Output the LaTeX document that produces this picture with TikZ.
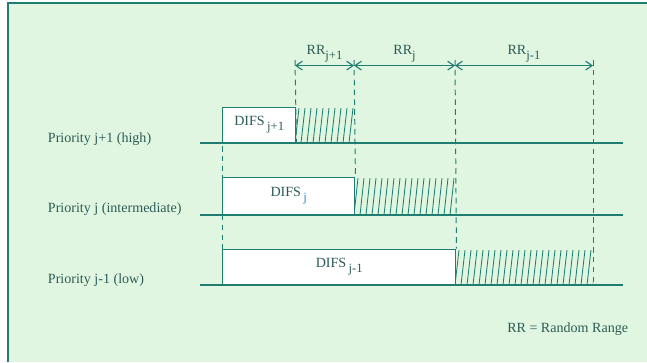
\documentclass[tikz,border=0pt]{standalone}
\usepackage{fontspec}
\setmainfont{Liberation Serif}
\usepackage{xcolor}
\usetikzlibrary{arrows.meta, positioning}
\definecolor{panelgreen}{HTML}{E0F6E0}
\definecolor{lineteal}{HTML}{1F7D72}
\definecolor{textteal}{HTML}{2D5C58}
\definecolor{subblue}{HTML}{2F8CC4}
\newcommand{\lowsub}[1]{\raisebox{-0.7ex}{\small #1}}

\begin{document}
\begin{tikzpicture}[
            timeline/.style={draw=lineteal, line width=1.3pt},
            slotbox/.style={
                draw=lineteal,
                fill=white,
                rectangle,
                anchor=south west,
                line width=1pt,
                inner sep=0pt,
                text=textteal
            },
            guide/.style={draw=lineteal, line width=0.7pt, dash pattern=on 4pt off 3pt},
            hatch/.style={draw=lineteal, line width=0.6pt},
            rrspan/.style={draw=lineteal, line width=0.8pt, {Straight Barb[length=1.6mm,width=2.2mm]}-{Straight Barb[length=1.6mm,width=2.2mm]}},
            txt/.style={text=textteal, font=\normalsize},
            prio/.style={txt, anchor=west}
        ]

        \useasboundingbox (0,0) rectangle (16.175,9.05);
        \fill[panelgreen] (0.2,0) rectangle (16.175,8.975);
        \draw[lineteal, line width=1.2pt] (0.2,0) -- (0.2,8.975) -- (16.175,8.975);

        % boxes
        \node[slotbox, minimum width=1.825cm, minimum height=0.875cm] (difshigh) at (5.55,5.475) {DIFS\,\lowsub{j+1}};
        \node[slotbox, minimum width=3.3cm, minimum height=0.925cm]   (difsmid)  at (5.55,3.675) {DIFS\,\lowsub{\textcolor{subblue}{j}}};
        \node[slotbox, minimum width=5.825cm, minimum height=0.875cm] (difslow)  at (5.55,1.925) {DIFS\,\lowsub{j-1}};

        % hatching
        \foreach \xa/\xb/\ya/\yb in {7.375/8.85/5.475/6.35, 8.85/11.375/3.675/4.6, 11.375/14.825/1.925/2.8}{
            \begin{scope}
                \clip (\xa,\ya) rectangle (\xb,\yb);
                \foreach \i in {0,...,24}
                    \draw[hatch] ({\xa+0.15*\i},\ya) -- ++(0.1,{\yb-\ya});
            \end{scope}
        }

        % time lines
        \draw[timeline] (5.0,5.475) -- (15.575,5.475);
        \draw[timeline] (5.0,3.675) -- (15.575,3.675);
        \draw[timeline] (5.0,1.925) -- (15.575,1.925);

        % guides
        \coordinate (ta) at (7.375,7.55);
        \coordinate (tb) at (8.85,7.55);
        \coordinate (tc) at (11.375,7.55);
        \coordinate (td) at (14.825,7.55);
        \draw[guide] (difshigh.north west) -- (difslow.south west);
        \draw[guide] (ta) -- (difshigh.south east);
        \draw[guide] (tb) -- (difsmid.north east);
        \draw[guide] (tc) -- (difslow.north east);
        \draw[guide] (td) -- (14.825,1.925);

        % ranges
        \draw[rrspan] ([yshift=-4pt]ta) -- ([yshift=-4pt]tb) node[midway, above=-1pt, txt] (rrhigh) {RR\lowsub{j+1}};
        \draw[rrspan] ([yshift=-4pt]tb) -- ([yshift=-4pt]tc) node[midway, above=-1pt, txt] (rrmid)  {RR\lowsub{j}};
        \draw[rrspan] ([yshift=-4pt]tc) -- ([yshift=-4pt]td) node[midway, above=-1pt, txt] (rrlow)  {RR\lowsub{j-1}};

        \node[prio] (priohigh) at (1.075,5.575) {Priority j+1 (high)};
        \node[prio] (priomid)  at (1.075,3.825) {Priority j (intermediate)};
        \node[prio] (priolow)  at (1.075,2.05)  {Priority j-1 (low)};

        \node[txt, anchor=east] (legend) at (15.825,0.825) {RR = Random Range};
        \end{tikzpicture}
\end{document}
